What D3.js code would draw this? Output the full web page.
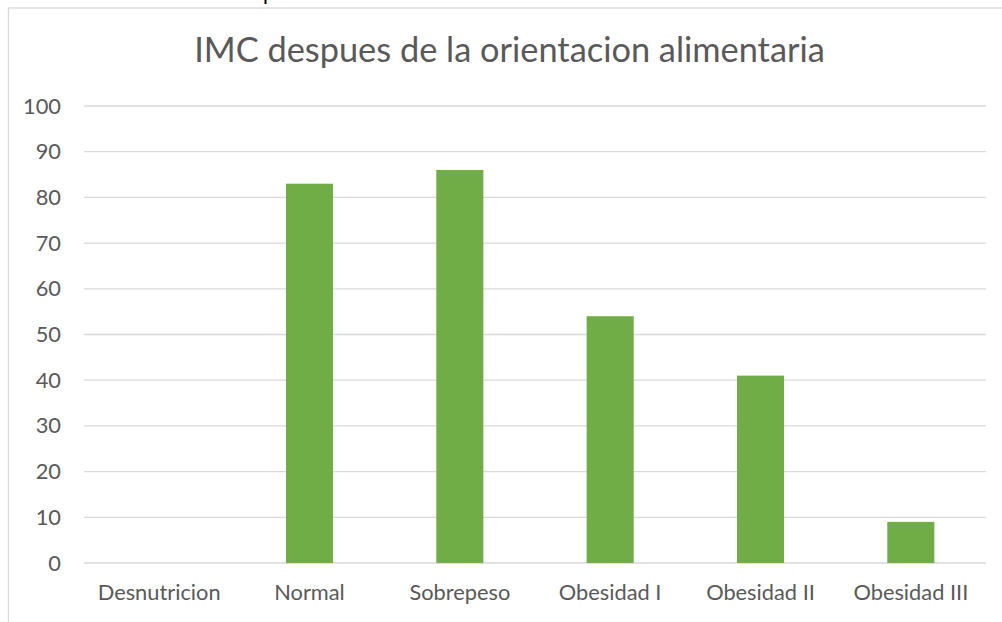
<!DOCTYPE html>
<html>
<head>
<meta charset="utf-8">
<script src="https://cdn.jsdelivr.net/npm/d3@7"></script>
<style>
  body { margin: 0; background: #fff; }
  svg { display: block; }
</style>
</head>
<body>
<div id="chart"></div>
<script>
const categories = ["Desnutricion", "Normal", "Sobrepeso", "Obesidad I", "Obesidad II", "Obesidad III"];
const values = [0, 83, 86, 54, 41, 9];
const yTicks = [0, 10, 20, 30, 40, 50, 60, 70, 80, 90, 100];
const titleText = "IMC despues de la orientacion alimentaria";

const W = 1002, H = 622;
const margin = {top: 106, right: 16, bottom: 59, left: 84};
const width = W - margin.left - margin.right;
const height = H - margin.top - margin.bottom;
const font = "Lato, 'Open Sans', sans-serif";

const svg = d3.select("#chart").append("svg")
    .attr("width", W)
    .attr("height", H);

// chart frame (cut off at right and bottom)
svg.append("rect")
    .attr("x", 8.5).attr("y", 8)
    .attr("width", W + 20).attr("height", H + 20)
    .attr("fill", "none")
    .attr("stroke", "#d9d9d9")
    .attr("stroke-width", 1.3);

// fragment of text above the chart
svg.append("text")
    .attr("x", 263).attr("y", -1)
    .attr("font-family", "'Liberation Sans', sans-serif")
    .attr("font-size", 22)
    .attr("fill", "#000")
    .text("p");

const g = svg.append("g")
    .attr("transform", "translate(" + margin.left + "," + margin.top + ")");

const xScale = d3.scaleBand()
    .domain(categories)
    .range([0, width])
    .paddingInner(0.687)
    .paddingOuter(0.3435);

const yScale = d3.scaleLinear()
    .domain([0, 100])
    .range([height, 0]);

// fit text to a measured width
function fitWidth(sel, target){
    const len = sel.node().getComputedTextLength();
    const fs = parseFloat(sel.attr("font-size"));
    sel.attr("font-size", fs * target / len);
}

// gridlines
g.append("g")
    .attr("class", "grid")
    .selectAll("line")
    .data(yTicks)
    .join("line")
    .attr("x1", 0).attr("x2", width)
    .attr("y1", d => yScale(d)).attr("y2", d => yScale(d))
    .attr("stroke", "#d9d9d9")
    .attr("stroke-width", 1.3);

// y axis labels
const yAxisG = g.append("g")
    .call(d3.axisLeft(yScale).tickValues(yTicks).tickSize(0).tickPadding(23));
yAxisG.select(".domain").remove();
yAxisG.selectAll("text")
    .attr("font-family", font)
    .attr("font-size", 17)
    .attr("fill", "#595959");

// bars
g.selectAll(".bar")
    .data(values)
    .join("rect")
    .attr("class", "bar")
    .attr("x", (d, i) => xScale(categories[i]))
    .attr("width", xScale.bandwidth())
    .attr("y", d => yScale(d))
    .attr("height", d => height - yScale(d))
    .attr("fill", "#70ad47");

// x axis labels
const xAxisG = g.append("g")
    .attr("transform", "translate(0," + height + ")")
    .call(d3.axisBottom(xScale).tickSize(0).tickPadding(22));
xAxisG.select(".domain").remove();
xAxisG.selectAll("text")
    .attr("font-family", font)
    .attr("font-size", 17)
    .attr("fill", "#595959");

// scale label fonts so "Desnutricion" spans ~123px
const probe = xAxisG.select("text");
const scaleF = 123 / probe.node().getComputedTextLength();
xAxisG.selectAll("text").attr("font-size", 17 * scaleF);
yAxisG.selectAll("text").attr("font-size", 17 * scaleF);

// title
const title = svg.append("text")
    .attr("x", 509.5).attr("y", 62)
    .attr("text-anchor", "middle")
    .attr("font-family", font)
    .attr("font-size", 30)
    .attr("fill", "#595959")
    .text(titleText);
fitWidth(title, 631);
</script>
</body>
</html>
